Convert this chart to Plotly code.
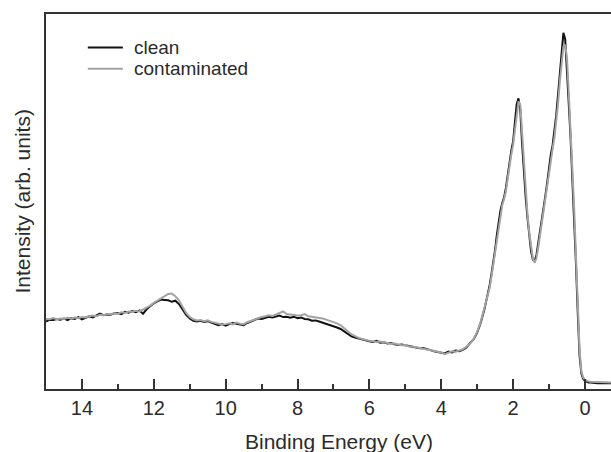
import numpy as np
import plotly.graph_objects as go

# Binding-energy grid: 0.1 eV steps over the valence band survey, 0.05 eV over the d-band peaks
survey_energy = np.round(np.arange(15.0, 2.65, -0.1), 2)   # 15.0 ... 2.7
peak_energy = np.round(np.arange(2.65, -0.76, -0.05), 2)   # 2.65 ... -0.75

clean_survey = [
    17.6, 18.1, 18.0, 18.3, 18.1, 18.4, 18.0, 18.5, 18.3, 18.8,
    18.2, 18.6, 19.0, 18.7, 19.1, 19.7, 19.3, 19.5, 19.4, 19.8,
    19.9, 19.6, 20.2, 20.0, 20.4, 20.1, 20.6, 19.7, 20.9, 21.8,
    22.5, 23.0, 23.5, 23.4, 23.3, 22.9, 23.2, 22.3, 20.8, 19.4,
    18.4, 17.8, 17.6, 17.8, 17.5, 17.7, 17.3, 17.0, 16.6, 16.9,
    16.5, 16.9, 17.2, 17.0, 16.8, 16.6, 17.2, 17.6, 18.0, 18.4,
    18.3, 18.6, 18.9, 18.7, 19.0, 19.2, 18.8, 18.9, 18.6, 18.9,
    18.5, 18.7, 18.3, 18.2, 17.8, 17.9, 17.6, 17.3, 17.1, 16.8,
    16.4, 16.0, 15.6, 14.9, 14.2, 13.6, 13.3, 13.0, 12.7, 12.6,
    12.3, 12.1, 12.4, 11.9, 12.0, 11.7, 11.8, 11.5, 11.3, 11.4,
    11.1, 11.0, 10.8, 10.6, 10.4, 10.5, 10.1, 9.9, 9.6, 9.4,
    9.1, 9.0, 9.5, 9.3, 9.8, 9.6, 10.0, 10.6, 11.8, 12.8,
    14.6, 17.3, 20.8, 25.0,
]
clean_peaks = [
    27.5, 30.5, 33.5, 37.0, 41.0, 44.5, 47.5, 49.5, 51.0, 53.5,
    57.0, 60.5, 63.5, 66.0, 70.5, 76.0, 77.6, 74.5, 65.5, 57.5,
    51.0, 45.5, 40.5, 36.5, 34.2, 33.8, 35.5, 38.5, 42.0, 45.5,
    48.5, 51.5, 55.0, 59.5, 62.5, 65.0, 68.5, 73.0, 78.5, 84.5,
    90.0, 95.2, 93.5, 86.0, 76.0, 67.0, 57.0, 46.0, 33.0, 20.0,
    8.5, 3.6, 2.2, 1.6, 1.3, 1.2, 1.2, 1.1, 1.1, 1.1,
    1.0, 1.1, 1.0, 1.0, 1.1, 1.0, 1.0, 1.0, 1.0,
]

contaminated_survey = [
    18.3, 18.2, 18.5, 18.2, 18.4, 18.3, 18.6, 18.4, 18.7, 18.5,
    18.8, 18.7, 19.0, 19.2, 19.0, 19.4, 19.3, 19.6, 19.5, 19.8,
    19.7, 20.1, 19.9, 20.3, 20.2, 20.5, 20.3, 20.8, 21.2, 21.9,
    22.6, 23.2, 23.8, 24.4, 25.0, 25.1, 24.4, 23.3, 21.6, 19.9,
    18.8, 18.2, 17.9, 18.0, 17.7, 17.9, 17.5, 17.2, 17.0, 16.8,
    16.9, 17.1, 16.8, 17.3, 17.0, 16.9, 17.4, 17.8, 18.1, 18.6,
    18.8, 19.0, 19.3, 19.1, 19.5, 19.8, 20.3, 19.6, 19.4, 19.3,
    19.2, 19.3, 19.6, 19.0, 18.9, 18.6, 18.7, 18.4, 18.1, 17.8,
    17.5, 17.1, 16.6, 15.9, 15.0, 14.2, 13.6, 13.2, 12.9, 12.6,
    12.4, 12.3, 12.1, 12.2, 11.9, 11.8, 11.6, 11.7, 11.4, 11.2,
    11.3, 10.9, 10.9, 10.7, 10.6, 10.3, 10.2, 9.9, 9.7, 9.5,
    9.3, 8.8, 9.2, 9.6, 9.5, 9.9, 10.1, 10.8, 11.6, 12.9,
    14.8, 17.5, 21.0, 24.6,
]
contaminated_peaks = [
    26.8, 29.8, 33.0, 36.2, 40.0, 43.8, 46.8, 49.0, 50.5, 52.6,
    56.0, 59.5, 62.5, 65.0, 69.0, 74.0, 76.8, 75.8, 68.0, 59.5,
    52.5, 46.5, 41.5, 37.2, 34.5, 33.4, 34.6, 37.5, 41.0, 44.5,
    47.5, 50.5, 54.0, 58.0, 61.5, 64.0, 67.0, 71.0, 76.0, 82.0,
    87.5, 91.5, 92.0, 88.5, 79.0, 69.5, 59.0, 48.0, 35.0, 22.0,
    10.0, 4.2, 2.6, 1.9, 1.6, 1.5, 1.4, 1.4, 1.3, 1.3,
    1.3, 1.3, 1.3, 1.2, 1.3, 1.2, 1.2, 1.2, 1.2,
]

series_names = ["clean", "contaminated"]
series_colors = ["#111111", "#a3a3a3"]
major_ticks = [0, 2, 4, 6, 8, 10, 12, 14]
minor_ticks = [1, 3, 5, 7, 9, 11, 13]

for s, p in [(clean_survey, clean_peaks), (contaminated_survey, contaminated_peaks)]:
    if len(s) != len(survey_energy) or len(p) != len(peak_energy):
        raise ValueError(f"length mismatch {len(s)} {len(p)}")

energy = np.concatenate([survey_energy, peak_energy])
spectra = [clean_survey + clean_peaks, contaminated_survey + contaminated_peaks]

FONT = "Liberation Sans, Arial, Helvetica, sans-serif"
INK = "#2b2b2b"

fig = go.Figure()
for name, color, y in zip(series_names, series_colors, spectra):
    fig.add_trace(go.Scatter(x=energy, y=y, mode="lines", name=name,
                             line=dict(color=color, width=2)))

# Compact legend: a short line sample and a label per series, tightly stacked
legend_shapes, legend_labels = [], []
row_y = [0.911, 0.854]
for name, color, yy in zip(series_names, series_colors, row_y):
    legend_shapes.append(dict(type="line", xref="paper", yref="paper",
                              x0=0.074, x1=0.136, y0=yy, y1=yy,
                              line=dict(color=color, width=2)))
    legend_labels.append(dict(text=name, xref="paper", yref="paper", x=0.152, y=yy,
                              xanchor="left", yanchor="middle", showarrow=False,
                              font=dict(size=19, color=INK)))

fig.update_layout(
    width=611, height=452,
    margin=dict(l=46, r=0, t=14, b=63),
    plot_bgcolor="white", paper_bgcolor="white",
    font=dict(family=FONT, color=INK),
    showlegend=False,
    shapes=legend_shapes,
    xaxis=dict(range=[15.0, -0.725], showline=True, linecolor="#333333", linewidth=2,
               mirror=True, showgrid=False, zeroline=False,
               tickvals=major_ticks, ticks="inside", ticklen=10, tickwidth=1.5,
               tickcolor="#333333", tickfont=dict(size=20, color=INK),
               minor=dict(tickvals=minor_ticks, ticks="inside", ticklen=5,
                          tickwidth=1.5, tickcolor="#333333")),
    yaxis=dict(range=[-0.54, 100.27], showline=True, linecolor="#333333", linewidth=2,
               showgrid=False, zeroline=False, ticks="", showticklabels=False),
    annotations=legend_labels + [
        dict(text="Binding Energy (eV)", xref="paper", yref="paper", x=0.5186, y=0,
             xanchor="center", yanchor="middle", yshift=-52, showarrow=False,
             font=dict(size=21, color=INK)),
        dict(text="Intensity (arb. units)", xref="paper", yref="paper", x=0, y=0.5,
             xanchor="center", yanchor="middle", xshift=-24, textangle=-90,
             showarrow=False, font=dict(size=21, color=INK)),
    ],
)

fig.write_html("out.html")
